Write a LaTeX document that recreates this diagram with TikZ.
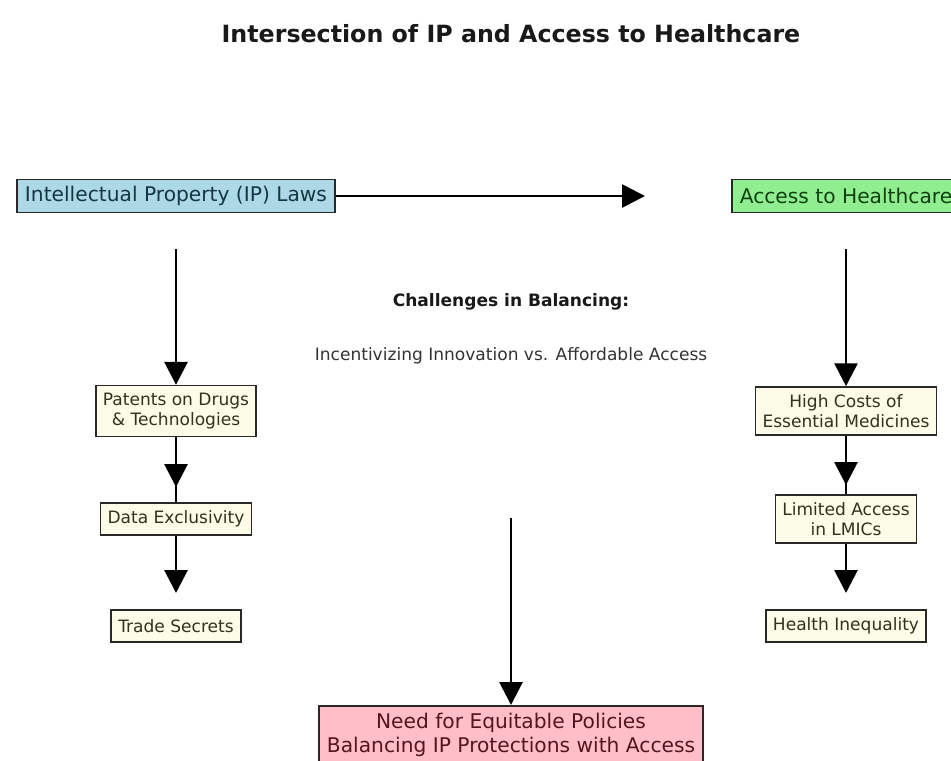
\documentclass[tikz,border=0pt]{standalone}
\usepackage{fontspec}
\setmainfont{DejaVu Sans}
\usepackage{xcolor}
\usepackage{tikz}
\usetikzlibrary{arrows.meta}
\definecolor{ipcolor}{RGB}{173, 216, 230}
\definecolor{accesscolor}{RGB}{144, 238, 144}
\definecolor{issuecolor}{RGB}{252, 252, 232}
\definecolor{policycolor}{RGB}{255, 190, 200}
\definecolor{iptext}{RGB}{20, 55, 65}
\definecolor{accesstext}{RGB}{15, 65, 15}
\definecolor{issuetext}{RGB}{50, 50, 30}
\definecolor{policytext}{RGB}{85, 20, 30}
\definecolor{edgecolor}{RGB}{40, 40, 40}
\tikzset{
  mainbox/.style={draw=edgecolor, line width=0.9pt, inner xsep=4.5pt, inner ysep=3.6pt, minimum height=18.8pt, align=center, font=\fontsize{11.5}{13.7}\selectfont},
  issuebox/.style={draw=edgecolor, fill=issuecolor, text=issuetext, line width=0.9pt, inner xsep=4pt, inner ysep=4.2pt, minimum height=18.2pt, align=center, font=\fontsize{9.7}{11.4}\selectfont},
  flow/.style={-{Triangle[length=13pt, width=13pt]}, line width=1.6pt},
  link/.style={line width=1.6pt}
}

\begin{document}
\begin{tikzpicture}
        \useasboundingbox (0, 0) rectangle (19.02, -15.2);
        % Title
        \node[font=\fontsize{13.5}{16}\selectfont\bfseries, text=black!90] (title) at (10.22, -0.68) {Intersection of IP and Access to Healthcare};
        
        % Main boxes
        \node[mainbox, fill=ipcolor, text=iptext] (ip) at (3.52, -3.92) {Intellectual Property (IP) Laws};
        \node[mainbox, fill=accesscolor, text=accesstext] (access) at (16.92, -3.92) {Access to Healthcare};
        
        % Middle text
        \node[font=\fontsize{9.7}{11.4}\selectfont\bfseries, text=black!90] (challenges) at (10.22, -6.04) {Challenges in Balancing:};
        \node[font=\fontsize{9.7}{11.4}\selectfont, text=black!80] (tradeoff) at (10.22, -7.12) {Incentivizing Innovation vs. Affordable Access};
        
        % IP side
        \node[issuebox] (patents) at (3.52, -8.22) {Patents on Drugs\\\& Technologies};
        \node[issuebox] (exclusivity) at (3.52, -10.38) {Data Exclusivity};
        \node[issuebox] (secrets) at (3.52, -12.52) {Trade Secrets};
        
        % Access side
        \node[issuebox] (costs) at (16.92, -8.22) {High Costs of\\Essential Medicines};
        \node[issuebox] (limited) at (16.92, -10.38) {Limited Access\\in LMICs};
        \node[issuebox] (inequality) at (16.92, -12.52) {Health Inequality};
        
        % Policy box
        \node[mainbox, anchor=north, fill=policycolor, text=policytext, inner ysep=4pt] (policy) at (10.22, -14.1) {Need for Equitable Policies\\Balancing IP Protections with Access};
        
        % Arrow ends
        \coordinate (ipend) at (12.9, -3.92);
        \coordinate (ipdrop) at (3.52, -4.98);
        \coordinate (accessdrop) at (16.92, -4.98);
        \coordinate (patentstip) at (3.52, -9.74);
        \coordinate (exclusivitytip) at (3.52, -11.86);
        \coordinate (coststip) at (16.92, -9.7);
        \coordinate (limitedtip) at (16.92, -11.86);
        \coordinate (policydrop) at (10.22, -10.36);
        
        % Arrows
        \draw[flow] (ip.east) -- (ipend);
        \draw[flow] (ipdrop) -- (patents.north);
        \draw[flow] (accessdrop) -- (costs.north);
        \draw[link] (patents.south) -- (exclusivity.north);
        \draw[flow] (patents.south) -- (patentstip);
        \draw[flow] (exclusivity.south) -- (exclusivitytip);
        \draw[link] (costs.south) -- (limited.north);
        \draw[flow] (costs.south) -- (coststip);
        \draw[flow] (limited.south) -- (limitedtip);
        \draw[flow] (policydrop) -- (policy.north);
    \end{tikzpicture}
\end{document}
